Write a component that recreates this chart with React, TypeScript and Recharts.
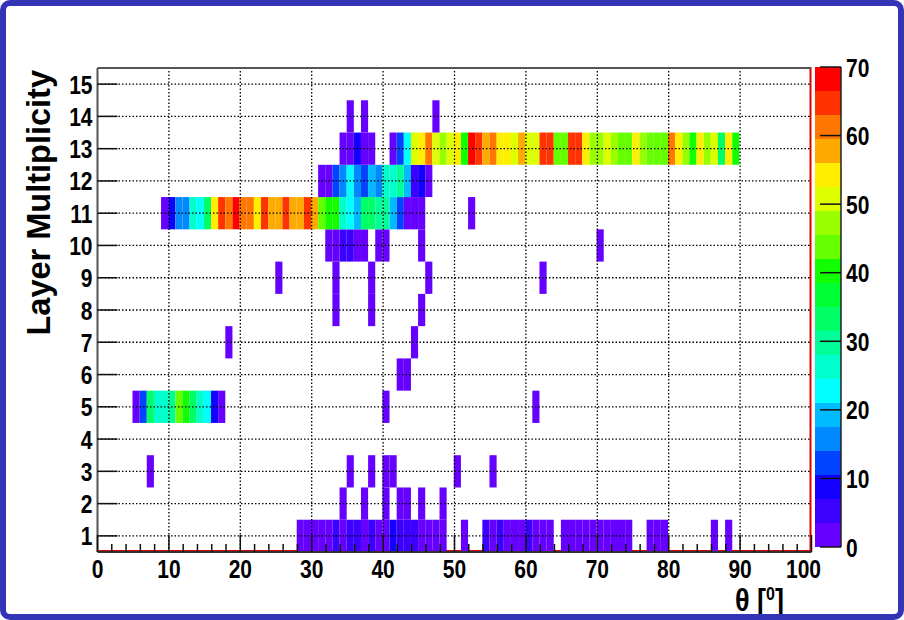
import React from "react";
import {
  ScatterChart,
  Scatter,
  XAxis,
  YAxis,
  ReferenceArea,
  ReferenceLine,
} from "recharts";

// colour scale: 20 contours between 0 and 70 (ROOT rainbow)
const Z_MAX = 70;
const PALETTE = [
  "#6600ff", "#3c00ff", "#1400ff", "#0044ff", "#0088ff",
  "#00bbff", "#00ffff", "#00ffcc", "#00ff99", "#00ff66",
  "#00ff33", "#11ff00", "#66ff00", "#99ff00", "#ddff00",
  "#ffee00", "#ffaa00", "#ff7700", "#ff3300", "#ff0000",
];
const Z_TICKS = [0, 10, 20, 30, 40, 50, 60, 70];

const THETA_TICKS = [
  0, 2, 4, 6, 8, 10, 12, 14, 16, 18, 20, 22, 24, 26, 28, 30, 32, 34, 36, 38,
  40, 42, 44, 46, 48, 50, 52, 54, 56, 58, 60, 62, 64, 66, 68, 70, 72, 74, 76,
  78, 80, 82, 84, 86, 88, 90, 92, 94, 96, 98, 100,
];
const THETA_GRID = [10, 20, 30, 40, 50, 60, 70, 80, 90];
const LAYER_TICKS = [1, 2, 3, 4, 5, 6, 7, 8, 9, 10, 11, 12, 13, 14, 15];

type Bin = [number, number]; // [theta bin, entries]
const run = (start: number, counts: number[]): Bin[] =>
  counts.map((c, i) => [start + i, c] as Bin);

const ROW_1: Bin[] = [
  ...run(28, [2, 2, 2, 2, 2, 4, 2, 5, 5, 2, 4, 2, 2, 8, 5, 5, 5, 2, 2, 2, 2]),
  [51, 2],
  ...run(54, [5, 2, 5, 2, 2, 2, 5, 2, 2, 2]),
  ...run(65, [2, 2, 2, 2, 2, 2, 2, 2, 2, 2]),
  ...run(77, [2, 2, 2]),
  [86, 2],
  [88, 2],
];
const ROW_2: Bin[] = [[34, 2], [37, 2], [40, 2], [42, 2], [43, 2], [45, 2], [48, 2]];
const ROW_3: Bin[] = [[7, 2], [35, 2], [38, 2], [40, 2], [41, 2], [50, 2], [55, 2]];
const ROW_5: Bin[] = [
  ...run(5, [2, 12, 33, 26, 26, 30, 44, 40, 33, 26, 23, 9, 2]),
  [40, 2],
  [61, 2],
];
const ROW_6: Bin[] = [[42, 2], [43, 2]];
const ROW_7: Bin[] = [[18, 2], [44, 2]];
const ROW_8: Bin[] = [[33, 2], [38, 2], [45, 2]];
const ROW_9: Bin[] = [[25, 2], [33, 2], [38, 2], [46, 2], [62, 2]];
const ROW_10: Bin[] = [
  [32, 2], [33, 2], [34, 5], [35, 5], [36, 3], [37, 3], [39, 2], [40, 2], [45, 2], [70, 2],
];
const ROW_11: Bin[] = [
  ...run(9, [
    2, 9, 16, 16, 26, 23, 33, 54, 65, 61, 68, 61, 61, 54, 65, 58, 58, 65, 58,
    58, 65, 58, 44, 40, 40, 26, 23, 19, 33, 33, 30, 30, 19, 12, 2, 2, 2,
  ]),
  [52, 2],
];
const ROW_12: Bin[] = run(31, [2, 2, 12, 16, 23, 16, 12, 19, 16, 26, 26, 30, 19, 5, 9, 2]);
const ROW_13: Bin[] = [
  ...run(34, [2, 2, 9, 2, 2]),
  ...run(41, [
    2, 12, 23, 51, 53, 61, 51, 47, 52, 55, 40, 68, 65, 58, 61, 54, 54, 51, 58,
    51, 51, 65, 65, 44, 44, 65, 65, 54, 47, 47, 51, 47, 44, 44, 54, 47, 44, 44,
    44, 61, 54, 47, 40, 54, 47, 51, 33, 54, 40,
  ]),
];
const ROW_14: Bin[] = [[35, 2], [37, 2], [47, 2]];

const LAYER_ROWS: [number, Bin[]][] = [
  [1, ROW_1], [2, ROW_2], [3, ROW_3], [5, ROW_5], [6, ROW_6], [7, ROW_7],
  [8, ROW_8], [9, ROW_9], [10, ROW_10], [11, ROW_11], [12, ROW_12],
  [13, ROW_13], [14, ROW_14],
];

const cells = LAYER_ROWS.flatMap(([layer, row]) =>
  row.map(([theta, count]) => ({ theta, layer, count }))
);

const colorFor = (v: number) =>
  PALETTE[Math.min(PALETTE.length - 1, Math.floor(v / (Z_MAX / PALETTE.length)))];

const BIN_SHIFT = 0.1;
const FONT = "'Liberation Sans', Arial, Helvetica, sans-serif";
const STRETCH = 1.27;

const ThetaTick = ({ x, y, payload }: any) => {
  const v = payload.value;
  const major = v % 10 === 0;
  return (
    <g>
      <line x1={x} x2={x} y1={y} y2={y - (major ? 17 : 8)} stroke="#111" strokeWidth={1.5} />
      {major && (
        <text
          transform={`translate(${x + (v === 100 ? -8 : 0)},${y + 26}) scale(1,${STRETCH})`}
          textAnchor="middle"
          fontFamily={FONT}
          fontWeight="bold"
          fontSize={21}
          fill="#000"
        >
          {v}
        </text>
      )}
    </g>
  );
};

const LayerTick = ({ x, y, payload }: any) => (
  <g>
    <line x1={x} x2={x + 20} y1={y} y2={y} stroke="#111" strokeWidth={1.5} />
    <text
      transform={`translate(${x - 5},${y + 9.5}) scale(1,${STRETCH})`}
      textAnchor="end"
      fontFamily={FONT}
      fontWeight="bold"
      fontSize={21}
      fill="#000"
    >
      {payload.value}
    </text>
  </g>
);

const ZTick = ({ x, y, payload }: any) => (
  <g>
    <line x1={x - 21} x2={x} y1={y} y2={y} stroke="#111" strokeWidth={1.5} />
    <text
      transform={`translate(${x + 5},${y + 9.5}) scale(1,${STRETCH})`}
      textAnchor="start"
      fontFamily={FONT}
      fontWeight="bold"
      fontSize={21}
      fill="#000"
    >
      {payload.value}
    </text>
  </g>
);

const Empty = () => <g />;

const HeatMap = () => (
  <ScatterChart
    width={904}
    height={620}
    margin={{ top: 68, right: 92.5, bottom: 38, left: 57.5 }}
  >
    <XAxis
      type="number"
      dataKey="theta"
      domain={[0, 100]}
      ticks={THETA_TICKS}
      interval={0}
      height={30}
      tickSize={0}
      tickMargin={0}
      tickLine={false}
      axisLine={{ stroke: "#333", strokeWidth: 2 }}
      tick={(p: any) => <ThetaTick {...p} />}
      allowDataOverflow
    />
    <YAxis
      type="number"
      dataKey="layer"
      domain={[0.5, 15.5]}
      ticks={LAYER_TICKS}
      interval={0}
      width={40}
      tickSize={0}
      tickMargin={0}
      tickLine={false}
      axisLine={{ stroke: "#555", strokeWidth: 2 }}
      tick={(p: any) => <LayerTick {...p} />}
      allowDataOverflow
    />
    {/* red histogram frame under the cells */}
    <ReferenceArea x1={0} x2={100} y1={0.5} y2={0.56} fill="#dd0000" fillOpacity={1} stroke="none" />
    <ReferenceArea x1={99.72} x2={100} y1={0.5} y2={15.5} fill="#dd0000" fillOpacity={1} stroke="none" />
    {cells.map((c, i) => (
      <ReferenceArea
        key={i}
        x1={c.theta - BIN_SHIFT}
        x2={c.theta + 1 - BIN_SHIFT}
        y1={c.layer - 0.5}
        y2={c.layer + 0.5}
        fill={colorFor(c.count)}
        fillOpacity={1}
        stroke="none"
      />
    ))}
    {THETA_GRID.map((t) => (
      <ReferenceLine key={"gx" + t} x={t} stroke="#000" strokeDasharray="1.5 2" strokeWidth={1.3} />
    ))}
    {LAYER_TICKS.map((l) => (
      <ReferenceLine key={"gy" + l} y={l} stroke="#000" strokeDasharray="1.5 2" strokeWidth={1.3} />
    ))}
    <ReferenceLine y={15.5} stroke="#555" strokeWidth={2} />
    <Scatter data={cells} shape={Empty} isAnimationActive={false} legendType="none" />
  </ScatterChart>
);

const bands = PALETTE.map((c, i) => ({
  lo: (i * Z_MAX) / PALETTE.length,
  hi: ((i + 1) * Z_MAX) / PALETTE.length,
  color: c,
}));

const ColorBar = () => (
  <ScatterChart
    width={89}
    height={620}
    margin={{ top: 67, right: 23, bottom: 73, left: 0 }}
  >
    <XAxis type="number" dataKey="x" domain={[0, 1]} hide />
    <YAxis
      type="number"
      dataKey="z"
      orientation="right"
      domain={[0, Z_MAX]}
      ticks={Z_TICKS}
      interval={0}
      width={40}
      tickSize={0}
      tickMargin={0}
      tickLine={false}
      axisLine={{ stroke: "#222", strokeWidth: 1.5 }}
      tick={(p: any) => <ZTick {...p} />}
    />
    {bands.map((b, i) => (
      <ReferenceArea
        key={i}
        x1={0}
        x2={1}
        y1={b.lo}
        y2={b.hi}
        fill={b.color}
        fillOpacity={1}
        stroke="none"
      />
    ))}
    <Scatter
      data={bands.map((b) => ({ x: 0.5, z: (b.lo + b.hi) / 2 }))}
      shape={Empty}
      isAnimationActive={false}
      legendType="none"
    />
  </ScatterChart>
);

export default function App() {
  return (
    <div
      style={{
        position: "absolute",
        left: 0,
        top: 0,
        width: 904,
        height: 620,
        background: "#fff",
        overflow: "hidden",
      }}
    >
      <div style={{ position: "absolute", left: 0, top: 0 }}>
        <HeatMap />
      </div>
      <div style={{ position: "absolute", left: 815, top: 0 }}>
        <ColorBar />
      </div>
      <svg
        width={904}
        height={620}
        style={{ position: "absolute", left: 0, top: 0, pointerEvents: "none" }}
      >
        <text
          transform="translate(50,70) rotate(-90)"
          textAnchor="end"
          fontFamily={FONT}
          fontWeight="bold"
          fontSize={32.5}
          fill="#000"
        >
          Layer Multiplicity
        </text>
        <text
          transform={`translate(735,611) scale(1,1.15)`}
          fontFamily={FONT}
          fontWeight="bold"
          fontSize={27}
          fill="#000"
        >
          θ [
          <tspan dy={-10} fontSize={16}>0</tspan>
          <tspan dy={10}>]</tspan>
        </text>
      </svg>
      <div
        style={{
          position: "absolute",
          left: 0,
          top: 0,
          width: 904,
          height: 620,
          boxSizing: "border-box",
          border: "6px solid #3434b6",
          borderRadius: 10,
          pointerEvents: "none",
        }}
      />
    </div>
  );
}
